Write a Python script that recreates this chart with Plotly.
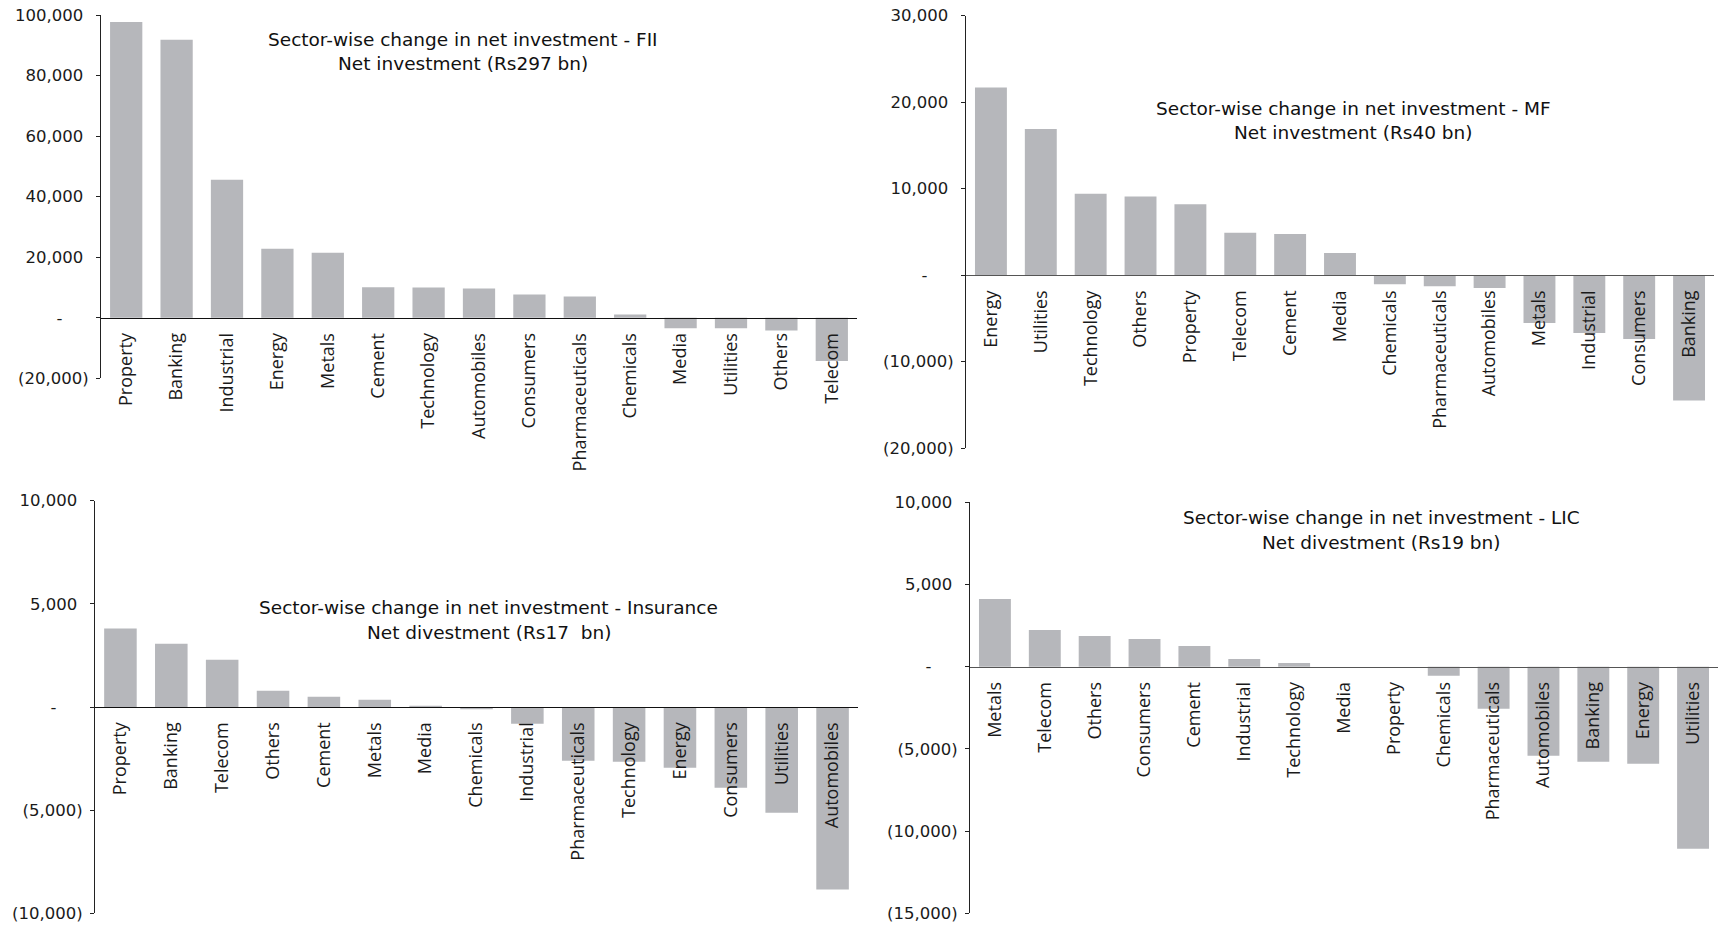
import plotly.graph_objects as go

W, H = 1721, 925

# ---------------- data ----------------
fii_sectors = ["Property", "Banking", "Industrial", "Energy", "Metals", "Cement", "Technology",
               "Automobiles", "Consumers", "Pharmaceuticals", "Chemicals", "Media", "Utilities",
               "Others", "Telecom"]
fii_values = [97700, 91800, 45600, 22800, 21500, 10100, 10000, 9700, 7700, 7000, 1100,
              -3500, -3500, -4200, -14300]
fii_ticks = [-20000, 0, 20000, 40000, 60000, 80000, 100000]

mf_sectors = ["Energy", "Utilities", "Technology", "Others", "Property", "Telecom", "Cement",
              "Media", "Chemicals", "Pharmaceuticals", "Automobiles", "Metals", "Industrial",
              "Consumers", "Banking"]
mf_values = [21700, 16900, 9400, 9100, 8200, 4900, 4750, 2550, -1050, -1300, -1500,
             -5550, -6700, -7400, -14500]
mf_ticks = [-20000, -10000, 0, 10000, 20000, 30000]

ins_sectors = ["Property", "Banking", "Telecom", "Others", "Cement", "Metals", "Media",
               "Chemicals", "Industrial", "Pharmaceuticals", "Technology", "Energy",
               "Consumers", "Utilities", "Automobiles"]
ins_values = [3800, 3070, 2290, 790, 500, 350, 60, -110, -810, -2600, -2650, -2940,
              -3910, -5120, -8850]
ins_ticks = [-10000, -5000, 0, 5000, 10000]

lic_sectors = ["Metals", "Telecom", "Others", "Consumers", "Cement", "Industrial",
               "Technology", "Media", "Property", "Chemicals", "Pharmaceuticals",
               "Automobiles", "Banking", "Energy", "Utilities"]
lic_values = [4120, 2230, 1870, 1680, 1260, 470, 220, 0, 0, -550, -2560, -5420, -5780,
              -5900, -11070]
lic_ticks = [-15000, -10000, -5000, 0, 5000, 10000]

titles = [
    ("Sector-wise change in net investment - FII", "Net investment (Rs297 bn)"),
    ("Sector-wise change in net investment - MF", "Net investment (Rs40 bn)"),
    ("Sector-wise change in net investment - Insurance", "Net divestment (Rs17\u00a0 bn)"),
    ("Sector-wise change in net investment - LIC", "Net divestment (Rs19 bn)"),
]

# ---------------- layout config (pixels) ----------------
panels = [
    dict(cats=fii_sectors, vals=fii_values, ticks=fii_ticks, x0=101, x1=857, ytop=15.0, ybot=378.3,
         tx=463, ty1=39, ty2=64, line="#111"),
    dict(cats=mf_sectors, vals=mf_values, ticks=mf_ticks, x0=966, x1=1714, ytop=15.7, ybot=448.0,
         tx=1353, ty1=108, ty2=133, line="#555"),
    dict(cats=ins_sectors, vals=ins_values, ticks=ins_ticks, x0=95, x1=858, ytop=500.7, ybot=913.3,
         tx=489, ty1=607, ty2=632, line="#111"),
    dict(cats=lic_sectors, vals=lic_values, ticks=lic_ticks, x0=970, x1=1718, ytop=502.3, ybot=913.3,
         tx=1381, ty1=517, ty2=542, line="#555"),
]

TICK_FONT = "DejaVu Sans, Verdana, sans-serif"
CAT_FONT = "Open Sans, Noto Sans, sans-serif"
BAR = "#b6b7bb"


def fmt(v):
    if v == 0:
        return "-" + "\u00a0" * 5
    if v < 0:
        return "({:,})".format(-v)
    return "{:,}".format(v) + "\u00a0"


fig = go.Figure()
layout = dict(
    width=W, height=H, margin=dict(l=0, r=0, t=0, b=0),
    paper_bgcolor="white", plot_bgcolor="white", showlegend=False,
    bargap=0.36, annotations=[],
)

for i, p in enumerate(panels, start=1):
    sx = "" if i == 1 else str(i)
    fig.add_trace(go.Bar(x=p["cats"], y=p["vals"], marker=dict(color=BAR, line=dict(width=0)),
                         xaxis="x" + sx, yaxis="y" + sx, hoverinfo="x+y"))
    xd = [p["x0"] / W, p["x1"] / W]
    yd = [1 - p["ybot"] / H, 1 - p["ytop"] / H]
    r0, r1 = min(p["ticks"]), max(p["ticks"])
    zero_pos = yd[0] + (0 - r0) / (r1 - r0) * (yd[1] - yd[0])
    layout["xaxis" + sx] = dict(
        domain=xd, anchor="free", position=zero_pos, type="category",
        range=[-0.5, len(p["cats"]) - 0.5],
        showline=True, linecolor=p["line"], linewidth=1.2, ticks="", showgrid=False,
        zeroline=False, tickangle=-90, ticklabelstandoff=7,
        tickfont=dict(family=CAT_FONT, size=18, color="#1a1a1a"), automargin=False,
    )
    layout["yaxis" + sx] = dict(
        domain=yd, anchor="x" + sx, range=[r0, r1],
        tickmode="array", tickvals=p["ticks"], ticktext=[fmt(v) for v in p["ticks"]],
        showline=True, linecolor="#222", linewidth=1.2, ticks="outside", ticklen=4,
        tickcolor="#222", showgrid=False, zeroline=False, ticklabelstandoff=4,
        tickfont=dict(family=TICK_FONT, size=16.5, color="#1a1a1a"), automargin=False,
    )
    t1, t2 = titles[i - 1]
    for txt, ty in ((t1, p["ty1"]), (t2, p["ty2"])):
        layout["annotations"].append(dict(
            text=txt, x=p["tx"] / W, y=1 - ty / H, xref="paper", yref="paper",
            xanchor="center", yanchor="middle", showarrow=False,
            font=dict(family=TICK_FONT, size=18.5, color="#111"),
        ))

fig.update_layout(**layout)
fig.write_html("out.html")
